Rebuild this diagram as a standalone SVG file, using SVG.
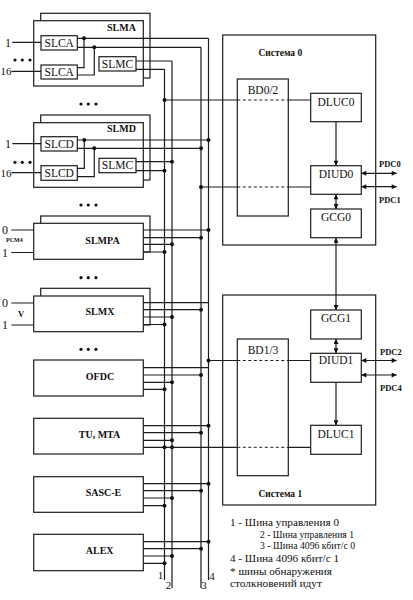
<svg xmlns="http://www.w3.org/2000/svg" width="413" height="600" viewBox="0 0 413 600">
<defs>
<style>
.ln{stroke:#1c1c1c;stroke-width:1.2;fill:none}
.ds{stroke:#1c1c1c;stroke-width:1;fill:none;stroke-dasharray:3 2.5}
.bx{fill:#fff;stroke:#1c1c1c;stroke-width:1.2}
.fr{fill:none;stroke:#1c1c1c;stroke-width:1.2}
.t{font-family:"Liberation Serif","Times New Roman",serif;fill:#111}
.b{font-weight:bold}
.m{text-anchor:middle}
.dot{fill:#111}
</style>
<marker id="ah" viewBox="0 0 10 10" refX="10" refY="5" markerWidth="6" markerHeight="5" markerUnits="userSpaceOnUse" orient="auto-start-reverse"><path d="M0,0 L10,5 L0,10 z" fill="#111"/></marker>
</defs>
<rect width="413" height="600" fill="#fff"/>

<!-- Modules -->
<g id="SLMA">
<rect class="bx" x="40.7" y="13.3" width="109.3" height="64.7"/>
<rect class="bx" x="33.7" y="20.7" width="109.6" height="65.3"/>
<text class="t b m" x="121.5" y="30.8" font-size="10">SLMA</text>
</g>
<g id="SLCA1"><rect class="bx" x="41" y="35.7" width="36.3" height="14.3"/><text class="t m" x="59.2" y="46.8" font-size="11.5">SLCA</text></g>
<g id="SLCA2"><rect class="bx" x="41" y="65" width="36.3" height="14"/><text class="t m" x="59.2" y="76" font-size="11.5">SLCA</text></g>
<g id="SLMC1"><rect class="bx" x="99" y="56.7" width="37" height="14.3"/><text class="t m" x="117.5" y="67.8" font-size="11.5">SLMC</text></g>

<g id="SLMD">
<rect class="bx" x="40.7" y="115" width="109.3" height="65"/>
<rect class="bx" x="33.7" y="122.7" width="109.6" height="64.6"/>
<text class="t b m" x="121.5" y="132" font-size="10">SLMD</text>
</g>
<g id="SLCD1"><rect class="bx" x="41" y="136.7" width="36.3" height="14.3"/><text class="t m" x="59.2" y="148" font-size="11.5">SLCD</text></g>
<g id="SLCD2"><rect class="bx" x="41" y="165.7" width="36.3" height="14.6"/><text class="t m" x="59.2" y="177.2" font-size="11.5">SLCD</text></g>
<g id="SLMC2"><rect class="bx" x="99" y="158.3" width="37" height="14.4"/><text class="t m" x="117.5" y="169.4" font-size="11.5">SLMC</text></g>

<g id="SLMPA">
<rect class="bx" x="40.7" y="216" width="109.3" height="36"/>
<rect class="bx" x="33.7" y="223.3" width="109.6" height="36"/>
<text class="t b m" x="102.5" y="244.3" font-size="10">SLMPA</text>
</g>
<g id="SLMX">
<rect class="bx" x="40.7" y="288.3" width="109.3" height="36.7"/>
<rect class="bx" x="33.7" y="296" width="109.6" height="35.7"/>
<text class="t b m" x="100" y="315.3" font-size="10">SLMX</text>
</g>
<g id="OFDC"><rect class="bx" x="33.7" y="360" width="109.6" height="36"/><text class="t b m" x="100" y="380.3" font-size="10">OFDC</text></g>
<g id="TUMTA"><rect class="bx" x="33.7" y="418.3" width="109.6" height="35.7"/><text class="t b m" x="99.5" y="437.6" font-size="10">TU, MTA</text></g>
<g id="SASCE"><rect class="bx" x="33.7" y="476.7" width="109.6" height="35.6"/><text class="t b m" x="103.5" y="496.3" font-size="10">SASC-E</text></g>
<g id="ALEX"><rect class="bx" x="33.7" y="534.3" width="109.6" height="36.4"/><text class="t b m" x="99.7" y="554.3" font-size="10">ALEX</text></g>

<!-- Systems -->
<g id="sys0">
<rect class="fr" x="222.7" y="35" width="153" height="210"/>
<text class="t b" x="258.5" y="56" font-size="9.5">Система 0</text>
</g>
<g id="BD02"><rect class="fr" x="237.3" y="79" width="51" height="137"/><text class="t m" x="263" y="94" font-size="11.5">BD0/2</text></g>
<g id="DLUC0"><rect class="bx" x="310.7" y="93.3" width="50.6" height="28.4"/><text class="t m" x="336" y="105.8" font-size="11.5">DLUC0</text></g>
<g id="DIUD0"><rect class="bx" x="310.7" y="165.7" width="50.6" height="28.6"/><text class="t m" x="336" y="178" font-size="11.5">DIUD0</text></g>
<g id="GCG0"><rect class="bx" x="310.7" y="209" width="50.6" height="28.7"/><text class="t m" x="336" y="221" font-size="11.5">GCG0</text></g>

<g id="sys1">
<rect class="fr" x="222.7" y="295" width="153" height="210"/>
<text class="t b" x="258.5" y="497" font-size="9.5">Система 1</text>
</g>
<g id="BD13"><rect class="fr" x="237.3" y="339" width="51" height="136.7"/><text class="t m" x="263" y="354" font-size="11.5">BD1/3</text></g>
<g id="GCG1"><rect class="bx" x="310.7" y="310" width="50.6" height="29"/><text class="t m" x="336" y="322" font-size="11.5">GCG1</text></g>
<g id="DIUD1"><rect class="bx" x="310.7" y="353.3" width="50.6" height="29"/><text class="t m" x="336" y="364.3" font-size="11.5">DIUD1</text></g>
<g id="DLUC1"><rect class="bx" x="310.7" y="425.3" width="50.6" height="29"/><text class="t m" x="336" y="437.6" font-size="11.5">DLUC1</text></g>

<g id="connectors">
<path class="ln" d="M164.5,69.3V580 M172,61V588 M201,47.3V588 M208.5,38.3V580"/>
<path class="ln" d="M12.3,42.3H41 M11.5,71.3H41"/>
<path class="ln" d="M77.3,38.3H208.5 M77.3,47.3H201 M77.3,67.7H84V38.3 M77.3,75H94.3V47.3 M136,61H172 M136,69.3H164.5"/>
<path class="ln" d="M12.3,143.7H41 M11.5,172.7H41"/>
<path class="ln" d="M77.3,140H208.5 M77.3,148.3H201 M77.3,168.3H84.3V140 M77.3,176.7H94.3V148.3 M136,161.7H172 M136,170.7H164.5"/>
<path class="ln" d="M11.3,230H33.7 M11.3,252.5H33.7 M11.3,303H33.7 M11.3,325H33.7"/>
<path class="ln" d="M143.3,230H208.5 M143.3,237.7H201 M143.3,244.3H172 M143.3,252H164.5"/>
<path class="ln" d="M143.3,302.7H208.5 M143.3,309.7H201 M143.3,317H172 M143.3,324.5H164.5"/>
<path class="ln" d="M143.3,367.7H208.5 M143.3,375H201 M143.3,382.3H172 M143.3,389.3H164.5"/>
<path class="ln" d="M143.3,425.7H208.5 M143.3,432.7H201 M143.3,440.3H172"/>
<path class="ln" d="M143.3,483.7H208.5 M143.3,490.7H201 M143.3,498H172 M143.3,505.7H164.5"/>
<path class="ln" d="M143.3,541.7H208.5 M143.3,548.7H201 M143.3,556H172 M143.3,563.3H164.5"/>
<path class="ln" d="M164.5,100H237.3 M288.3,100H310.7 M201,187H237.3 M288.3,187H310.7 M208.5,360.5H237.3 M288.3,360.5H310.7 M143.3,447.3H237.3 M288.3,447.3H310.7"/>
<path class="ds" d="M237.3,100H288.3 M237.3,187H288.3 M237.3,360.5H288.3 M237.3,447.3H288.3"/>
<path class="ln" d="M336,121.7V165.7" marker-end="url(#ah)"/>
<path class="ln" d="M336,194.3V209" marker-start="url(#ah)" marker-end="url(#ah)"/>
<path class="ln" d="M336,237.7V310" marker-start="url(#ah)" marker-end="url(#ah)"/>
<path class="ln" d="M336,339V353.3" marker-start="url(#ah)" marker-end="url(#ah)"/>
<path class="ln" d="M336,382.3V425.3" marker-end="url(#ah)"/>
<path class="ln" d="M361.3,173.3H396.7" marker-start="url(#ah)" marker-end="url(#ah)"/>
<path class="ln" d="M361.3,186.7H396.7" marker-start="url(#ah)" marker-end="url(#ah)"/>
<path class="ln" d="M361.3,360.5H396.7" marker-start="url(#ah)" marker-end="url(#ah)"/>
<path class="ln" d="M361.3,375H396.7" marker-start="url(#ah)" marker-end="url(#ah)"/>
<g class="dot">
<circle cx="84" cy="38.3" r="2"/><circle cx="94.3" cy="47.3" r="2"/>
<circle cx="84.3" cy="140" r="2"/><circle cx="94.3" cy="148.3" r="2"/>
<circle cx="208.5" cy="140" r="2"/><circle cx="201" cy="148.3" r="2"/><circle cx="172" cy="161.7" r="2"/><circle cx="164.5" cy="170.7" r="2"/>
<circle cx="164.5" cy="100" r="2"/><circle cx="201" cy="187" r="2"/>
<circle cx="208.5" cy="230" r="2"/><circle cx="201" cy="237.7" r="2"/><circle cx="172" cy="244.3" r="2"/><circle cx="164.5" cy="252" r="2"/>
<circle cx="201" cy="309.7" r="2"/><circle cx="172" cy="317" r="2"/><circle cx="164.5" cy="324.5" r="2"/>
<circle cx="208.5" cy="360.5" r="2"/>
<circle cx="201" cy="375" r="2"/><circle cx="172" cy="382.3" r="2"/><circle cx="164.5" cy="389.3" r="2"/>
<circle cx="208.5" cy="425.7" r="2"/><circle cx="201" cy="432.7" r="2"/><circle cx="172" cy="440.3" r="2"/><circle cx="164.5" cy="447.3" r="2"/><circle cx="172" cy="447.3" r="2"/>
<circle cx="208.5" cy="483.7" r="2"/><circle cx="201" cy="490.7" r="2"/><circle cx="172" cy="498" r="2"/><circle cx="164.5" cy="505.7" r="2"/>
<circle cx="208.5" cy="541.7" r="2"/><circle cx="201" cy="548.7" r="2"/><circle cx="172" cy="556" r="2"/><circle cx="164.5" cy="563.3" r="2"/>
</g>
</g>

<g class="dot">
<circle cx="15" cy="60" r="1.6"/><circle cx="22.3" cy="60" r="1.6"/><circle cx="30" cy="60" r="1.6"/>
<circle cx="15" cy="162.3" r="1.6"/><circle cx="22.3" cy="162.3" r="1.6"/><circle cx="30" cy="162.3" r="1.6"/>
<circle cx="81" cy="104" r="1.6"/><circle cx="88.3" cy="104" r="1.6"/><circle cx="96" cy="104" r="1.6"/>
<circle cx="81" cy="205" r="1.6"/><circle cx="88.3" cy="205" r="1.6"/><circle cx="96" cy="205" r="1.6"/>
<circle cx="81" cy="277.7" r="1.6"/><circle cx="88.3" cy="277.7" r="1.6"/><circle cx="96" cy="277.7" r="1.6"/>
<circle cx="81" cy="349.3" r="1.6"/><circle cx="88.3" cy="349.3" r="1.6"/><circle cx="96" cy="349.3" r="1.6"/>
</g>

<g class="t" font-size="12">
<text x="5" y="46.5">1</text>
<text x="5" y="148">1</text>
<text x="2" y="234.3">0</text>
<text x="2" y="256.8">1</text>
<text x="2" y="307.3">0</text>
<text x="2" y="329.3">1</text>
</g>
<g class="t" font-size="11">
<text x="0.5" y="75.3">16</text>
<text x="0.5" y="176.7">16</text>
</g>
<text class="t b" x="6" y="241.5" font-size="6">PCM4</text>
<text class="t b" x="18" y="317.3" font-size="8.5">V</text>

<g class="t m" font-size="11">
<text x="160.5" y="579">1</text>
<text x="168.5" y="589">2</text>
<text x="204" y="589">3</text>
<text x="212" y="580">4</text>
</g>

<g class="t b" font-size="8.5">
<text x="379" y="167">PDC0</text>
<text x="379" y="203">PDC1</text>
<text x="380" y="354.7">PDC2</text>
<text x="380" y="391.3">PDC4</text>
</g>

<g class="t">
<text x="230" y="526" font-size="11" textLength="109" lengthAdjust="spacingAndGlyphs">1 - Шина управления 0</text>
<text x="260" y="537.5" font-size="9.5" textLength="94" lengthAdjust="spacingAndGlyphs">2 - Шина управления 1</text>
<text x="260" y="548.5" font-size="9.5" textLength="95" lengthAdjust="spacingAndGlyphs">3 - Шина 4096 кбит/с 0</text>
<text x="230" y="561.5" font-size="11" textLength="109" lengthAdjust="spacingAndGlyphs">4 - Шина 4096 кбит/с 1</text>
<text x="230" y="574.5" font-size="11" textLength="102" lengthAdjust="spacingAndGlyphs">* шины обнаружения</text>
<text x="230" y="586.5" font-size="11" textLength="92" lengthAdjust="spacingAndGlyphs">столкновений идут</text>
</g>
</svg>
